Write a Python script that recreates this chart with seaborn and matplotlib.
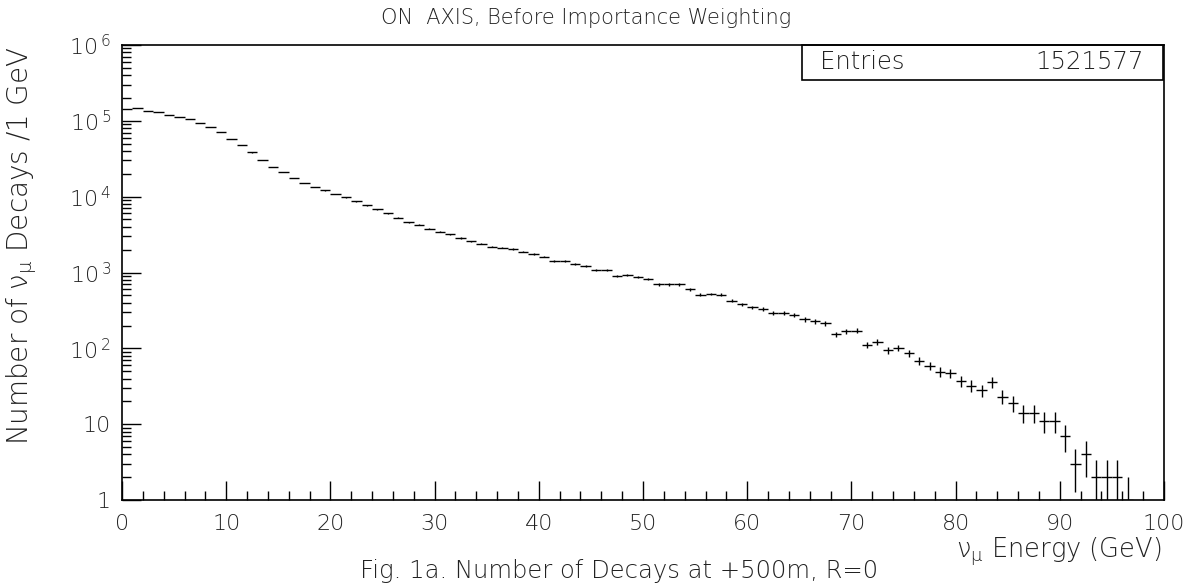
import numpy as np
import matplotlib
matplotlib.use("Agg")
import matplotlib.pyplot as plt
import matplotlib.ticker as mticker
from matplotlib.patches import Rectangle
import seaborn as sns

# ---- data (counts per 1 GeV bin, 0..100 GeV) ----
bin_edges = list(range(0, 101))
counts = [142000, 149000, 136000, 131000, 118000, 112000, 105000, 93500, 82800, 70500,
          57500, 47900, 38400, 30700, 24500, 21100, 17500, 15100, 13400, 12100,
          10800, 9760, 8640, 7650, 6780, 6000, 5310, 4610, 4250, 3800,
          3470, 3200, 2860, 2580, 2410, 2200, 2130, 2030, 1890, 1740,
          1620, 1420, 1410, 1310, 1210, 1090, 1070, 910, 930, 865,
          823, 700, 698, 695, 600, 511, 521, 511, 425, 380,
          347, 330, 293, 293, 278, 241, 227, 213, 153, 169,
          171, 111, 120, 95, 101, 87, 68, 59, 49, 47,
          37, 32, 28, 36, 23, 19, 14, 14, 11, 11,
          7, 3, 4, 2, 2, 2, 1, 0, 0, 0]
ytick_values = [1, 10, 100, 1000, 10000, 100000, 1000000]
ytick_labels = ["1", "10", r"$\mathregular{10^{\,2}}$", r"$\mathregular{10^{\,3}}$",
                r"$\mathregular{10^{\,4}}$", r"$\mathregular{10^{\,5}}$", r"$\mathregular{10^{\,6}}$"]
xtick_values = [0, 10, 20, 30, 40, 50, 60, 70, 80, 90, 100]
title_text = "ON  AXIS, Before Importance Weighting"
entries_label = "Entries"
entries_value = "1521577"
ylabel_text = r"Number of $\mathregular{ν_{μ}}$ Decays /1 GeV"
xlabel_text = r"$\mathregular{ν_{μ}}$ Energy (GeV)"
caption_text = "Fig. 1a. Number of Decays at +500m, R=0"

sns.set_theme(style="ticks")
plt.rcParams["font.family"] = ["DejaVu Sans"]
plt.rcParams["font.weight"] = "light"
plt.rcParams["mathtext.fontset"] = "dejavusans"

W, H = 1199, 585
fig = plt.figure(figsize=(W / 100, H / 100), dpi=100)
fig.patch.set_facecolor("white")
L, R, T, B = 122, 1164, 45, 500
ax = fig.add_axes([L / W, 1 - B / H, (R - L) / W, (B - T) / H])
ax.set_facecolor("white")

edges = np.array(bin_edges, dtype=float)
centers = 0.5 * (edges[:-1] + edges[1:])
c = np.array(counts, dtype=float)
mask = c > 0
cx = centers[mask]
cy = c[mask]
err = np.sqrt(cy)
lower = np.minimum(err, cy * (1 - 1e-4))
upper = err

ax.errorbar(cx, cy, xerr=0.5, yerr=[lower, upper], fmt="none",
            ecolor="black", elinewidth=1.0, capsize=0)

ax.set_yscale("log")
ax.set_xlim(0, 100)
ax.set_ylim(1, 1e6)

ax.xaxis.set_major_locator(mticker.FixedLocator(xtick_values))
ax.xaxis.set_minor_locator(mticker.MultipleLocator(2))
ax.yaxis.set_major_locator(mticker.FixedLocator(ytick_values))
ax.yaxis.set_major_formatter(mticker.FixedFormatter(ytick_labels))
ax.yaxis.set_minor_locator(mticker.LogLocator(base=10, subs=np.arange(2, 10)))
ax.yaxis.set_minor_formatter(mticker.NullFormatter())

txt = "#222222"
ax.tick_params(axis="both", which="major", direction="in", length=13.5, width=1.0,
               color="black", labelsize=16, labelcolor=txt, top=False, right=False)
ax.tick_params(axis="both", which="minor", direction="in", length=6.5, width=1.0,
               color="black", top=False, right=False)
ax.tick_params(axis="x", which="major", pad=10)
ax.tick_params(axis="y", which="major", pad=8)
for s in ax.spines.values():
    s.set_color("black")
    s.set_linewidth(1.2)

# title
fig.text(586 / W, 1 - 18 / H, title_text, ha="center", va="center",
         fontsize=15, color=txt)

# stats box
bx0, bx1, by0, by1 = 802, 1163, 45, 80
fig.patches.append(Rectangle((bx0 / W, 1 - by1 / H), (bx1 - bx0) / W, (by1 - by0) / H,
                             transform=fig.transFigure, fill=False,
                             edgecolor="black", linewidth=1.2))
fig.text(820 / W, 1 - 62 / H, entries_label, ha="left", va="center",
         fontsize=17.5, color=txt)
fig.text(1144 / W, 1 - 62 / H, entries_value, ha="right", va="center",
         fontsize=17.5, color=txt)

# axis labels
fig.text(22 / W, 1 - 246 / H, ylabel_text, rotation=90, ha="center", va="center",
         fontsize=20, color=txt)
fig.text(1162 / W, 1 - 552 / H, xlabel_text, ha="right", va="center",
         fontsize=18.5, color=txt)
fig.text(360 / W, 1 - 583 / H, caption_text, ha="left", va="bottom",
         fontsize=17.5, color=txt)

fig.savefig("out.png", dpi=100, facecolor="white")
